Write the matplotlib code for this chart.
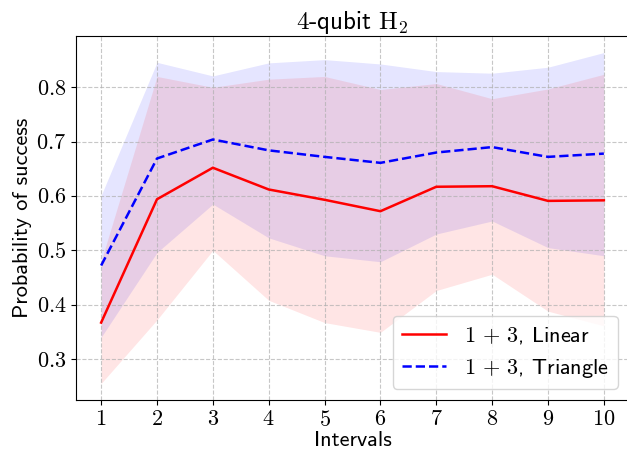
import numpy as np
import matplotlib
matplotlib.use("Agg")
import matplotlib.pyplot as plt

plt.rcParams['mathtext.fontset'] = 'cm'
plt.rcParams['font.family'] = ['cmss10', 'DejaVu Sans']
plt.rcParams['axes.unicode_minus'] = False

# Data
intervals = np.arange(1, 11)

linear_mean = [0.367, 0.594, 0.652, 0.612, 0.593, 0.572, 0.617, 0.618, 0.591, 0.592]
linear_low = [0.255, 0.372, 0.500, 0.408, 0.367, 0.349, 0.426, 0.456, 0.388, 0.361]
linear_high = [0.480, 0.820, 0.800, 0.815, 0.820, 0.796, 0.807, 0.779, 0.797, 0.824]

triangle_mean = [0.472, 0.669, 0.704, 0.684, 0.672, 0.661, 0.680, 0.690, 0.672, 0.678]
triangle_low = [0.340, 0.496, 0.585, 0.523, 0.490, 0.479, 0.530, 0.554, 0.505, 0.490]
triangle_high = [0.601, 0.846, 0.821, 0.845, 0.851, 0.843, 0.829, 0.826, 0.837, 0.864]

yticks = [0.3, 0.4, 0.5, 0.6, 0.7, 0.8]

fig = plt.figure(figsize=(6.27, 4.55), dpi=100)
# right spine falls just outside the saved image, as in the reference
ax = fig.add_axes([76 / 627, 55 / 455, 553 / 627, 364 / 455])

ax.fill_between(intervals, triangle_low, triangle_high, color='blue', alpha=0.1, linewidth=0)
ax.fill_between(intervals, linear_low, linear_high, color='red', alpha=0.1, linewidth=0)
ax.plot(intervals, linear_mean, color='red', linestyle='-', linewidth=1.8, label=r'$1\,+\,3$, Linear')
ax.plot(intervals, triangle_mean, color='blue', linestyle='--', linewidth=1.8, label=r'$1\,+\,3$, Triangle')

ax.set_xticks(intervals)
ax.set_xticklabels([f'${i}$' for i in intervals], fontsize=16)
ax.set_yticks(yticks)
ax.set_yticklabels([f'${v:.1f}$' for v in yticks], fontsize=16)

ax.grid(True, linestyle='--', color='#b0b0b0', alpha=0.7)
ax.set_xlabel('Intervals', fontsize=16, labelpad=1)
ax.set_ylabel('Probability of success', fontsize=16, labelpad=3)
ax.set_title(r'$4$-qubit $\mathrm{H}_2$', fontsize=18, pad=5)

ax.legend(loc='lower right', fontsize=16, borderaxespad=0.5)

fig.savefig('out.png', dpi=100)
